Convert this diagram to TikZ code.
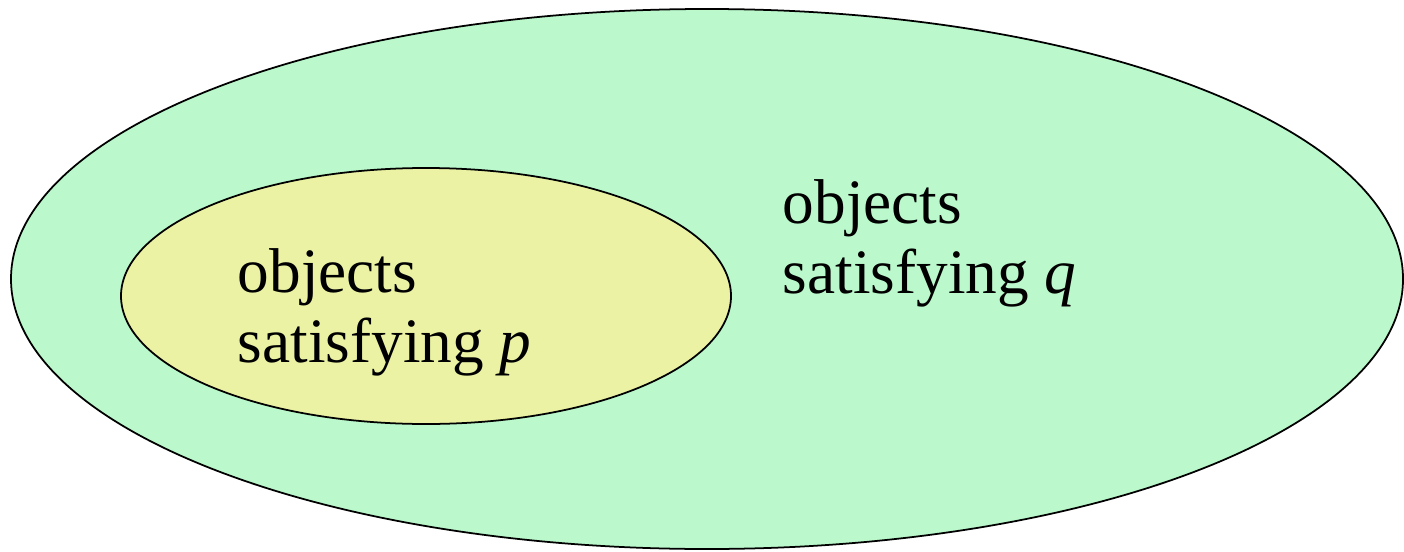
\documentclass[tikz,border=0pt]{standalone}
\usepackage{fontspec}
\setmainfont{Liberation Serif}
\usetikzlibrary{positioning}
\definecolor{qgreen}{RGB}{187,249,204}
\definecolor{pyellow}{RGB}{235,242,164}
\tikzset{
  every path/.style={
    black,
    line width=0.5pt
  },
  setlabel/.style={
    anchor=base west,
    align=left,
    inner sep=0pt,
    font=\fontsize{18}{19.8}\selectfont
  }
}

\begin{document}
\begin{tikzpicture}[x=1cm,y=1cm]
    \useasboundingbox (0,0) rectangle (14.04,5.51);

    % 外側 q
    \draw[fill=qgreen] (7.07,2.72) ellipse [x radius=6.96, y radius=2.70];

    % 内側 p
    \draw[fill=pyellow] (4.26,2.55) ellipse [x radius=3.05, y radius=1.28];

    % ラベル
    \node[setlabel] (plabel) at (2.37,1.89) {objects\\satisfying \textit{p}};
    \node[setlabel] (qlabel) at (7.82,2.58) {objects\\satisfying \textit{q}};
\end{tikzpicture}
\end{document}
